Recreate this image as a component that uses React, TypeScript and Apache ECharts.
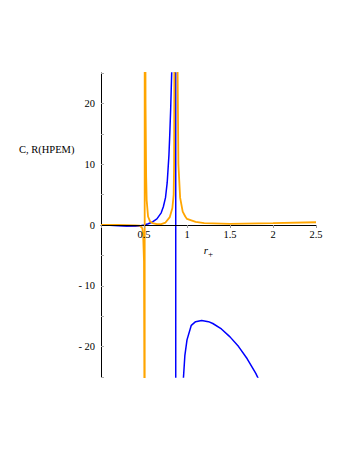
import React, { useEffect, useRef } from "react";
import * as echarts from "echarts";

// C (blue) curve samples
const cX = [0, 0.1, 0.2, 0.3, 0.4, 0.45, 0.5, 0.55, 0.6, 0.65, 0.7, 0.725, 0.75, 0.77, 0.79, 0.8, 0.81, 0.822, 0.835, 0.85, 0.869, 0.869, 0.88, 0.9, 0.93, 0.957, 0.975, 1.0, 1.05, 1.1, 1.17, 1.25, 1.3, 1.4, 1.5, 1.6, 1.7, 1.8, 1.83, 1.9, 2.0];
const cY = [0, -0.05, -0.12, -0.2, -0.22, -0.15, 0, 0.2, 0.5, 1.0, 2.0, 3.0, 4.5, 7.0, 11.5, 15, 19, 25, 35, 60, 2000, -2000, -200, -70, -38, -25.5, -21.5, -18.9, -16.5, -15.9, -15.7, -15.9, -16.2, -17.1, -18.4, -20, -22, -24.4, -25.3, -27, -30];

// R(HPEM) (orange) curve samples
const rX = [0, 0.2, 0.4, 0.45, 0.48, 0.49, 0.5, 0.505, 0.508, 0.508, 0.512, 0.518, 0.525, 0.531, 0.547, 0.57, 0.6, 0.65, 0.7, 0.75, 0.8, 0.83, 0.845, 0.85, 0.853, 0.865, 0.872, 0.88, 0.891, 0.9, 0.92, 0.95, 0.98, 1.0, 1.1, 1.2, 1.5, 2.0, 2.5];
const rY = [0, 0, -0.05, -0.1, -0.5, -1.5, -6, -30, -2000, 2000, 60, 20, 8, 4.1, 1.4, 0.6, 0.3, 0.15, 0.15, 0.4, 1.3, 2.8, 5, 10, 25, 200, 5000, 200, 25, 10, 4.5, 2.2, 1.4, 1.0, 0.5, 0.3, 0.18, 0.3, 0.45];

const xTicks = [0.5, 1, 1.5, 2, 2.5];
const yTickLabels = [-20, -10, 0, 10, 20];

const FONT = "'Liberation Serif', 'Times New Roman', serif";
const GRID_TOP = 73;
const GRID_BOTTOM = 74;
const Y_MIN = -25;
const Y_MAX = 25;

export default function App() {
  const ref = useRef<HTMLDivElement>(null);
  useEffect(() => {
    if (!ref.current) return;
    const chart = echarts.init(ref.current, undefined, { renderer: "svg" });
    const cData = cX.map((x, i) => [x, cY[i]]);
    const rData = rX.map((x, i) => [x, rY[i]]);
    const plotH = 451 - GRID_TOP - GRID_BOTTOM;
    // shift the x axis from the bottom of the grid up to y = 0
    const zeroOffset = -((0 - Y_MIN) / (Y_MAX - Y_MIN)) * plotH;
    chart.setOption({
      animation: false,
      backgroundColor: "#ffffff",
      grid: { left: 101, right: 33, top: GRID_TOP, bottom: GRID_BOTTOM, containLabel: false },
      xAxis: {
        type: "value",
        min: 0,
        max: 2.5,
        interval: 0.5,
        position: "bottom",
        offset: zeroOffset,
        name: "{r|r}{s|+}",
        nameLocation: "middle",
        nameGap: 15,
        nameTextStyle: {
          rich: {
            r: { fontFamily: FONT, fontSize: 11, fontStyle: "italic", color: "#000" },
            s: { fontFamily: FONT, fontSize: 9, color: "#000", padding: [8, 0, 0, 0] },
          },
        },
        axisLine: { show: true, onZero: false, lineStyle: { color: "#000", width: 1 } },
        axisTick: { show: true, inside: false, length: 3, lineStyle: { color: "#999" } },
        splitLine: { show: false },
        axisLabel: {
          fontFamily: FONT,
          fontSize: 10.5,
          color: "#000",
          margin: 4,
          formatter: (v: number) => (xTicks.some((t) => Math.abs(t - v) < 1e-9) ? String(v) : ""),
        },
        z: 5,
      },
      yAxis: {
        type: "value",
        min: Y_MIN,
        max: Y_MAX,
        interval: 5,
        axisLine: { show: true, onZero: false, lineStyle: { color: "#000", width: 1 } },
        axisTick: { show: true, inside: true, length: 3, lineStyle: { color: "#aaa" } },
        splitLine: { show: false },
        axisLabel: {
          fontFamily: FONT,
          fontSize: 10.5,
          color: "#000",
          margin: 6,
          formatter: (v: number) => (yTickLabels.includes(v) ? (v < 0 ? "- " + Math.abs(v) : String(v)) : ""),
        },
      },
      graphic: [
        {
          type: "text",
          left: 19,
          top: 144,
          style: { text: "C, R(HPEM)", font: `10.5px ${FONT}`, fill: "#000" },
        },
      ],
      series: [
        {
          name: "C",
          type: "line",
          data: cData,
          showSymbol: false,
          symbol: "none",
          clip: true,
          lineStyle: { color: "#0000ff", width: 1.5 },
          z: 2,
        },
        {
          name: "R(HPEM)",
          type: "line",
          data: rData,
          showSymbol: false,
          symbol: "none",
          clip: true,
          lineStyle: { color: "#ffa500", width: 1.8 },
          z: 3,
        },
      ],
    });
    return () => chart.dispose();
  }, []);
  return <div ref={ref} style={{ position: "fixed", left: 0, top: 0, width: 349, height: 451 }} />;
}
